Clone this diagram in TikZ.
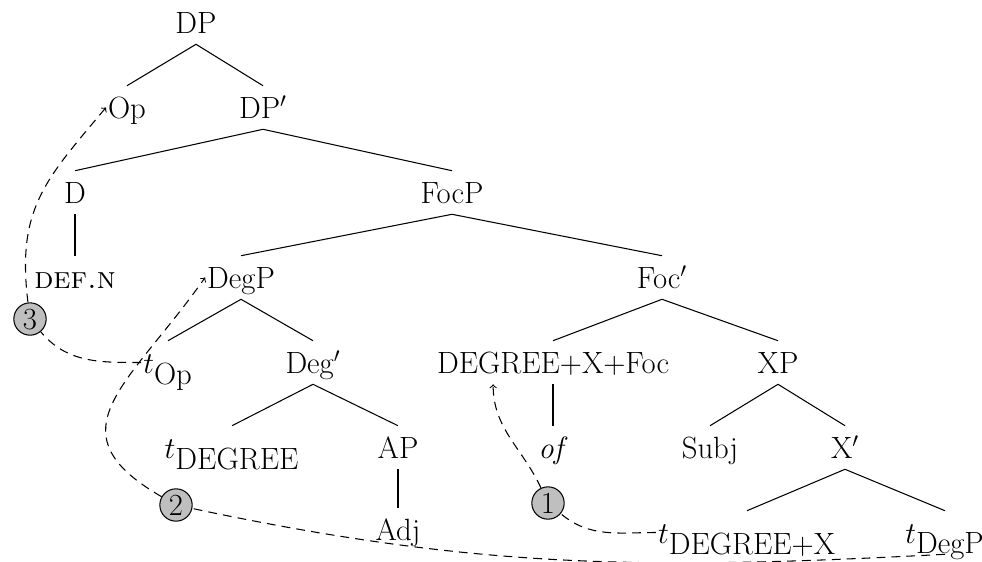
\documentclass[tikz,border=0pt]{standalone}
\usepackage{tikz}
\usetikzlibrary{arrows}

\begin{document}
\begin{tikzpicture}[x=0.02cm,y=-0.02cm,
    every node/.style={font=\fontsize{17.5}{21}\selectfont,inner xsep=1pt,inner ysep=0pt,
      text height=18.2pt,text depth=6.2pt},
    branch/.style={line width=0.6pt},
    move/.style={->,line width=0.6pt,dash pattern=on 5pt off 3.5pt},
    stepnum/.style={circle,draw,fill=black!25,line width=0.6pt,inner sep=1.6pt,
      text height=11.4pt,text depth=0pt}]
\useasboundingbox (0,0) rectangle (982,561);

\node (dp)     at (196,22.5)  {DP};
\node (op)     at (127,107.5) {Op};
\node (dpbar)  at (263,107.5) {DP$'$};
\node (d)      at (75,192.5)  {D};
\node (focp)   at (452,192.5) {FocP};
\node (defn)   at (75,277.5)  {\textsc{def.n}};
\node (degp)   at (241,277.5) {DegP};
\node (focbar) at (662,277.5) {Foc$'$};
\node (tOp)    at (168,362.5) {$t_{\textrm{Op}}$};
\node (degbar) at (313,362.5) {Deg$'$};
\node (degfoc) at (553,362.5) {DEGREE+X+Foc};
\node (xp)     at (778,362.5) {XP};
\node (tdeg)   at (232,447.5) {$t_{\textrm{DEGREE}}$};
\node (ap)     at (398,447.5) {AP};
\node (of)     at (553,447.5) {\textit{of}};
\node (subj)   at (710,447.5) {Subj};
\node (xbar)   at (845,447.5) {X$'$};
\node (adj)    at (398,530)   {Adj};
\node (tdegx)  at (747,532.5) {$t_{\textrm{DEGREE+X}}$};
\node (tdegp)  at (945,532.5) {$t_{\textrm{DegP}}$};

\node[stepnum] (c1) at (548,503) {1};
\node[stepnum] (c2) at (176,505) {2};
\node[stepnum] (c3) at (30,319)  {3};

\draw[branch](dp.south)     -- (op.north);
\draw[branch](dp.south)     -- (dpbar.north);
\draw[branch](dpbar.south)  -- (d.north);
\draw[branch](dpbar.south)  -- (focp.north);
\draw[branch](d.south)      -- (defn.north);
\draw[branch](focp.south)   -- (degp.north);
\draw[branch](focp.south)   -- (focbar.north);
\draw[branch](degp.south)   -- (tOp.north);
\draw[branch](degp.south)   -- (degbar.north);
\draw[branch](focbar.south) -- (degfoc.north);
\draw[branch](focbar.south) -- (xp.north);
\draw[branch](degbar.south) -- (tdeg.north);
\draw[branch](degbar.south) -- (ap.north);
\draw[branch](degfoc.south) -- (of.north);
\draw[branch](xp.south)     -- (subj.north);
\draw[branch](xp.south)     -- (xbar.north);
\draw[branch](ap.south)     -- (adj.north);
\draw[branch](xbar.south)   -- (tdegx.north);
\draw[branch](xbar.south)   -- (tdegp.north);

\draw[move,-](tdegx.west)  to[out=180,in=-40] (c1);
\draw[move](c1)            to[out=115,in=-90] (degfoc.-160);
\draw[move,-](tdegp.south) to[out=183,in=-12] (c2);
\draw[move](c2)            to[out=150,in=-125,looseness=1.5] (degp.west);
\draw[move,-](tOp.west)    to[out=180,in=-50] (c3);
\draw[move](c3)            to[out=97,in=-130,looseness=1.15] (op.west);
\end{tikzpicture}
\end{document}
